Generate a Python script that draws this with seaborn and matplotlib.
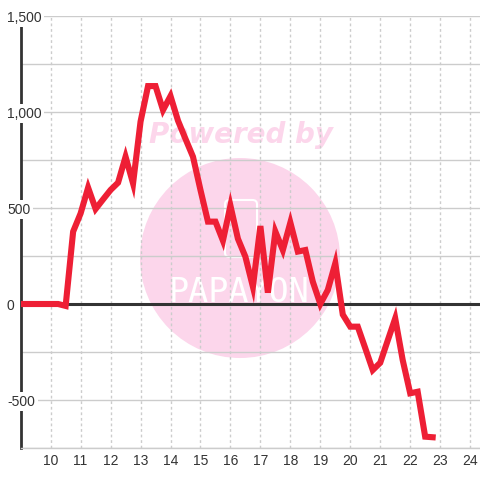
import matplotlib
matplotlib.use("Agg")
import matplotlib.pyplot as plt
import seaborn as sns
import pandas as pd
from matplotlib.patches import Ellipse, FancyBboxPatch

hours = [9.0, 9.25, 9.5, 9.75, 10.0, 10.25, 10.5, 10.75, 11.0, 11.25, 11.5, 11.75,
         12.0, 12.25, 12.5, 12.75, 13.0, 13.25, 13.5, 13.75, 14.0, 14.25, 14.5, 14.75,
         15.0, 15.25, 15.5, 15.75, 16.0, 16.25, 16.5, 16.75, 17.0, 17.25, 17.5, 17.75,
         18.0, 18.25, 18.5, 18.75, 19.0, 19.25, 19.5, 19.75, 20.0, 20.25, 20.5, 20.75,
         21.0, 21.25, 21.5, 21.75, 22.0, 22.25, 22.5, 22.75]
values = [0, 0, 0, 0, 0, 0, -10, 377, 472, 606, 495, 545,
          594, 632, 767, 628, 950, 1135, 1135, 1010, 1083, 955, 860, 767,
          594, 429, 429, 330, 512, 340, 246, 90, 406, 59, 377, 281,
          424, 273, 281, 116, 0, 73, 212, -55, -118, -118, -230, -344,
          -306, -190, -75, -292, -465, -457, -691, -694]

x_ticks = [10, 11, 12, 13, 14, 15, 16, 17, 18, 19, 20, 21, 22, 23, 24]
y_major = [-500, 0, 500, 1000, 1500]
y_labels = ["-500", "0", "500", "1,000", "1,500"]
y_minor = [-750, -250, 250, 750, 1250]

RED = "#EE1F35"
PINK = "#FCD6EB"
GRID = "#cccccc"
DARK = "#333333"

sns.set_theme(style="white")
plt.rcParams['font.family'] = ['Liberation Sans', 'DejaVu Sans']

fig = plt.figure(figsize=(4.8, 4.8), dpi=100)
pos = [20.7 / 480, 32 / 480, 459.3 / 480, 432 / 480]
ax = fig.add_axes(pos)
ax.set_xlim(9.0, 24.33)
ax.set_ylim(-750, 1500)
ax.set_axisbelow(True)

# watermark
ax.add_patch(Ellipse((0.4775, 0.4398), 0.4354, 0.463, fc=PINK, ec='none',
                     zorder=0.2, transform=ax.transAxes))
ax.text(0.4797, 0.7245, "Powered by", transform=ax.transAxes, ha='center', va='center',
        fontsize=20, fontweight='bold', fontstyle='italic', family='DejaVu Sans',
        color=PINK, zorder=0.3)
ax.text(0.4753, 0.338, "PAPAYON", transform=ax.transAxes, ha='center', va='baseline',
        fontsize=24, family='DejaVu Sans Mono', color='white', zorder=0.3)
ax.add_patch(FancyBboxPatch((0.4448, 0.4421), 0.0697, 0.132,
                            boxstyle='round,pad=0,rounding_size=0.01', fc='none',
                            ec='white', lw=1.5, transform=ax.transAxes, zorder=0.3))

df = pd.DataFrame({"hour": hours, "value": values})
sns.lineplot(data=df, x="hour", y="value", ax=ax, color=RED, linewidth=4.4,
             errorbar=None, solid_capstyle='projecting', solid_joinstyle='miter',
             zorder=3)
ax.axhline(0, color=DARK, lw=2.2, zorder=1.5)

ax.set_xlabel("")
ax.set_ylabel("")
ax.set_xticks(x_ticks)
ax.set_xticklabels([str(t) for t in x_ticks])
ax.tick_params(axis='x', length=0, pad=4.3, labelsize=10, labelcolor=DARK)
ax.set_yticks(y_major)
ax.set_yticks(y_minor, minor=True)
ax.tick_params(axis='y', which='both', length=0, labelleft=False)
ax.grid(axis='y', which='both', color=GRID, lw=1, linestyle='-')
ax.grid(axis='x', which='major', color=GRID, lw=1, linestyle=(0, (2, 2)))

for s in ['top', 'right']:
    ax.spines[s].set_visible(False)
ax.spines['left'].set_color(DARK)
ax.spines['left'].set_linewidth(2)
ax.spines['bottom'].set_color(GRID)
ax.spines['bottom'].set_linewidth(1)

# overlay axes for y labels drawn above the spine
ax2 = fig.add_axes(pos, facecolor='none')
ax2.set_ylim(-750, 1500)
ax2.set_xlim(9.0, 24.33)
ax2.set_xticks([])
ax2.set_yticks(y_major, y_labels)
ax2.tick_params(axis='y', length=0, pad=9.9, labelsize=10, labelcolor=DARK)
ax2.grid(False)
for s in ax2.spines.values():
    s.set_visible(False)
for t in ax2.yaxis.get_major_ticks():
    t.label1.set_horizontalalignment('left')
    t.label1.set_bbox(dict(boxstyle='square,pad=0.2', fc='white', ec='none'))

fig.savefig("out.png", dpi=100)
